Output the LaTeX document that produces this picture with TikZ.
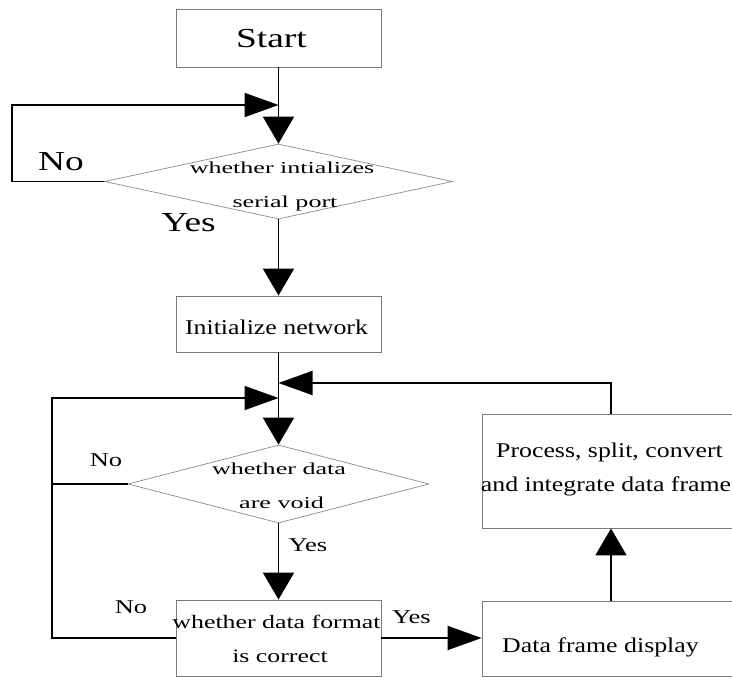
\documentclass[tikz,border=0pt]{standalone}
\usepackage{fontspec}
\setmainfont{Liberation Serif}
\newfontfamily\fa[FakeStretch=1.23]{Liberation Serif}
\newfontfamily\fb[FakeStretch=1.36]{Liberation Serif}
\newfontfamily\fc[FakeStretch=1.56]{Liberation Serif}
\usetikzlibrary{arrows.meta,shapes.geometric}
\definecolor{boxgray}{HTML}{7A7A7A}
\definecolor{diagray}{HTML}{8C8C8C}
\tikzset{
  box/.style={draw=boxgray, line width=0.9pt, inner sep=0pt},
  dia/.style={diamond, draw=diagray, line width=0.7pt, inner sep=0pt},
  conn/.style={line width=1.9pt, black},
  va/.style={-{Triangle[length=27pt,width=31pt]}},
  ha/.style={-{Triangle[length=34pt,width=24pt]}},
  txt/.style={anchor=base, inner sep=0pt},
  bigtxt/.style={txt, font=\fb\fontsize{27.5}{30}\selectfont},
  smalltxt/.style={txt, font=\fb\fontsize{19.5}{22}\selectfont},
  boxtxt/.style={txt, font=\fa\fontsize{21}{24}\selectfont},
  fmttxt/.style={txt, font=\fb\fontsize{19}{22}\selectfont},
  diatxt/.style={txt, font=\fc\fontsize{16.7}{20}\selectfont}
}
\begin{document}
\begin{tikzpicture}[x=1pt,y=-1pt]
\useasboundingbox (0,0) rectangle (732,677);
\fill[white] (0,0) rectangle (732,677);
\clip (0,0) rectangle (732,677);

% nodes
\node[box, minimum width=205pt, minimum height=58pt] (start) at (278.5,38) {};
\node[bigtxt] (tstart) at (271.5,47.7) {Start};

\node[dia, minimum width=348pt, minimum height=75pt] (d1) at (278.5,181.5) {};
\node[diatxt] (td1a) at (282,173) {whether intializes};
\node[diatxt] (td1b) at (285,207) {serial port};

\node[box, minimum width=205pt, minimum height=56pt] (init) at (278.5,324) {};
\node[boxtxt] (tinit) at (276.5,334) {Initialize network};

\node[dia, minimum width=301pt, minimum height=78pt] (d2) at (278.5,484) {};
\node[diatxt] (td2a) at (279,474) {whether data};
\node[diatxt] (td2b) at (281.5,508) {are void};

\node[box, minimum width=205pt, minimum height=76pt] (fmt) at (278.5,638) {};
\node[fmttxt] (tfmta) at (276.5,628) {whether data format};
\node[fmttxt] (tfmtb) at (280,662.5) {is correct};

\node[box, minimum width=260pt, minimum height=75pt] (data) at (612,638.5) {};
\node[boxtxt] (tdata) at (600.5,652) {Data frame display};

\node[box, minimum width=260pt, minimum height=114pt] (proc) at (612,471) {};
\node[boxtxt] (tproca) at (609.5,457) {Process, split, convert};
\node[boxtxt] (tprocb) at (606,491.7) {and integrate data frame};

% labels
\node[bigtxt] (no1) at (61,170) {No};
\node[bigtxt] (yes1) at (188.5,231.7) {Yes};
\node[smalltxt] (no2) at (106,466) {No};
\node[smalltxt] (yes2) at (308,551.7) {Yes};
\node[smalltxt] (no3) at (131,613) {No};
\node[smalltxt] (yes3) at (411.5,623) {Yes};

% coordinates
\coordinate (j1) at (278.5,105);
\coordinate (c1a) at (12,181.5);
\coordinate (c1b) at (12,105);
\coordinate (j2) at (278.5,383);
\coordinate (j3) at (278.5,398);
\coordinate (c2a) at (52,484);
\coordinate (c2b) at (52,398);
\coordinate (c2c) at (52,638);
\coordinate (c3) at (611,383);

% connectors
\draw[conn,va] (start.south) -- (d1.north);
\draw[conn,ha] (d1.west) -- (c1a) -- (c1b) -- (j1);
\draw[conn,va] (d1.south) -- (init.north);
\draw[conn,va] (init.south) -- (d2.north);
\draw[conn] (d2.west) -- (c2a);
\draw[conn,ha] (fmt.west) -- (c2c) -- (c2b) -- (j3);
\draw[conn,va] (d2.south) -- (fmt.north);
\draw[conn,ha] (fmt.east) -- (fmt.east -| data.west);
\draw[conn,va] (data.north -| c3) -- (proc.south -| c3);
\draw[conn,ha] (proc.north -| c3) -- (c3) -- (j2);
\end{tikzpicture}
\end{document}
